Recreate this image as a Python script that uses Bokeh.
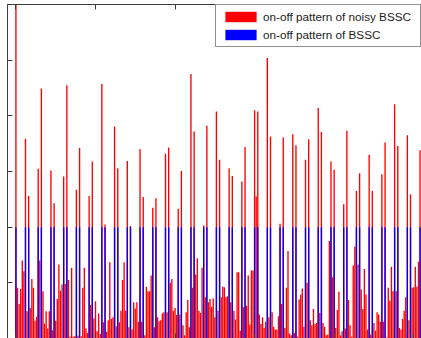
from bokeh.plotting import figure
from bokeh.models import ColumnDataSource, Range1d, LinearAxis, FixedTicker, Legend, LegendItem
from bokeh.embed import file_html
from bokeh.resources import INLINE

# on-off pattern of the noisy BSSC
noisy = [
    6.20, 0.91, 0.62, 0.89, 1.40, 1.21, 3.59, 0.49, 2.56, 0.55, 1.07, 0.91, 0.32, 0.39, 3.05, 1.40,
    4.49, 0.85, 0.27, 0.49, 0.18, 0.49, 3.02, 0.15, 2.43, 0.32, 0.71, 1.33, 0.86, 0.97, 2.91, 0.98,
    4.55, 1.05, 0.03, 1.27, 0.03, 0.04, 2.67, 0.05, 3.42, 0.04, 0.91, 1.27, 0.18, 0.10, 2.56, 0.60,
    3.18, 0.36, 0.67, 0.13, 0.45, 0.08, 4.57, 0.29, 2.05, 0.12, 0.33, 1.37, 0.35, 0.38, 3.81, 0.22,
    3.06, 0.29, 0.50, 1.05, 1.37, 0.50, 3.19, 0.20, 2.02, 0.16, 0.65, 0.54, 0.65, 0.30, 3.40, 0.30,
    2.54, 0.06, 0.93, 0.85, 0.85, 1.13, 2.35, 0.20, 2.52, 0.38, 0.31, 0.33, 0.45, 0.47, 3.32, 0.47,
    3.43, 1.00, 1.07, 0.50, 0.55, 0.42, 2.33, 0.43, 3.01, 0.24, 0.06, 0.47, 0.69, 0.20, 4.75, 0.91,
    3.72, 1.15, 1.44, 0.50, 0.46, 1.27, 2.03, 0.74, 3.82, 0.65, 0.71, 0.57, 0.72, 0.38, 4.08, 0.50,
    3.21, 0.74, 0.93, 0.92, 0.74, 0.76, 3.06, 0.65, 2.92, 0.50, 0.34, 1.19, 1.19, 0.14, 2.82, 0.56,
    3.44, 0.59, 1.13, 0.25, 1.22, 1.22, 4.10, 2.55, 4.08, 0.43, 0.26, 0.38, 0.19, 0.30, 5.04, 0.38,
    3.63, 0.47, 0.21, 0.16, 0.16, 0.40, 2.06, 0.62, 3.61, 0.19, 0.91, 1.57, 0.09, 0.06, 3.67, 0.10,
    3.47, 0.03, 0.70, 0.79, 0.90, 0.21, 3.21, 1.00, 3.58, 0.33, 0.24, 0.53, 0.26, 0.28, 4.14, 0.46,
    3.71, 0.28, 0.21, 0.06, 0.07, 1.75, 3.18, 1.10, 3.03, 0.19, 0.51, 0.84, 0.06, 0.13, 2.41, 0.18,
    3.73, 0.69, 0.24, 0.03, 1.31, 1.65, 2.65, 1.33, 2.97, 0.88, 0.53, 1.25, 0.79, 0.16, 3.30, 0.07,
    2.65, 0.28, 0.14, 0.47, 0.43, 0.30, 2.95, 0.30, 3.52, 0.02, 0.91, 0.68, 1.29, 0.85, 4.21, 0.85,
    3.46, 0.19, 0.16, 0.35, 0.50, 0.74, 3.65, 0.33, 2.59, 0.91, 0.92, 1.29, 0.93, 1.38, 3.38, 0.50,
]

# on-off pattern of the clean BSSC
clean = [
    2, 0, 0, 0, 0, 0, 2, 0, 2, 0, 0, 0, 0, 0, 2, 0,
    2, 0, 0, 0, 0, 0, 2, 0, 2, 0, 0, 0, 0, 0, 2, 0,
    2, 0, 0, 0, 0, 0, 2, 0, 2, 0, 0, 0, 0, 0, 2, 0,
    2, 0, 0, 0, 0, 0, 2, 0, 2, 0, 0, 0, 0, 0, 2, 0,
    2, 0, 0, 0, 0, 0, 2, 0, 2, 0, 0, 0, 0, 0, 2, 0,
    2, 0, 0, 0, 0, 0, 2, 0, 2, 0, 0, 0, 0, 0, 2, 0,
    2, 0, 0, 0, 0, 0, 2, 0, 2, 0, 0, 0, 0, 0, 2, 0,
    2, 0, 0, 0, 0, 0, 2, 0, 2, 0, 0, 0, 0, 0, 2, 0,
    2, 0, 0, 0, 0, 0, 2, 0, 2, 0, 0, 0, 0, 0, 2, 0,
    2, 0, 0, 0, 0, 0, 2, 0, 2, 0, 0, 0, 0, 0, 2, 0,
    2, 0, 0, 0, 0, 0, 2, 0, 2, 0, 0, 0, 0, 0, 2, 0,
    2, 0, 0, 0, 0, 0, 2, 0, 2, 0, 0, 0, 0, 0, 2, 0,
    2, 0, 0, 0, 0, 0, 2, 0, 2, 0, 0, 0, 0, 0, 2, 0,
    2, 0, 0, 0, 0, 0, 2, 0, 2, 0, 0, 0, 0, 0, 2, 0,
    2, 0, 0, 0, 0, 0, 2, 0, 2, 0, 0, 0, 0, 0, 2, 0,
    2, 0, 0, 0, 0, 0, 2, 0, 2, 0, 0, 0, 0, 0, 2, 0,
]

sample = list(range(len(noisy)))
x_ticks = [0, 50, 100, 150, 200, 250]
y_ticks = [0, 1, 2, 3, 4, 5, 6]
legend_labels = ["on-off pattern of noisy BSSC", "on-off pattern of BSSC"]

src = ColumnDataSource(dict(x=sample, noisy=noisy, clean=clean))

p = figure(width=421, height=338, output_backend="svg", toolbar_location=None,
           x_range=Range1d(-5.3, 254.9), y_range=Range1d(0, 6),
           x_axis_location=None, y_axis_location=None,
           min_border_left=7, min_border_right=0, min_border_top=4, min_border_bottom=0)
p.outline_line_color = None
p.grid.visible = False
p.background_fill_color = "white"
p.border_fill_color = "white"

AX = "#3c3c3c"


def make_axis(ticks):
    # tick marks point inward; the reference shows no tick labels (cropped away)
    return LinearAxis(ticker=FixedTicker(ticks=ticks), major_tick_in=5, major_tick_out=0,
                      minor_tick_line_color=None, major_label_text_font_size="1px",
                      major_label_text_color=None, major_label_standoff=0,
                      axis_line_color=AX, axis_line_width=1, major_tick_line_color=AX)


p.add_layout(make_axis(y_ticks), "left")
p.add_layout(make_axis(x_ticks), "above")
p.add_layout(make_axis(x_ticks), "below")

r_red = p.vbar(x="x", top="noisy", width=0.85, source=src,
               fill_color="#ff0000", line_color=None)
r_blue = p.vbar(x="x", top="clean", width=0.85, source=src,
                fill_color="#0000ff", line_color=None)

legend = Legend(items=[LegendItem(label=legend_labels[0], renderers=[r_red]),
                       LegendItem(label=legend_labels[1], renderers=[r_blue])],
                location="top_right", margin=0, padding=5, spacing=5,
                glyph_width=39, glyph_height=13, label_standoff=3, label_height=13,
                label_width=152,
                label_text_font="Liberation Sans", label_text_font_size="11.7px",
                label_text_color="#222222", border_line_color="#222222",
                border_line_width=1, background_fill_color="white", background_fill_alpha=1)
p.add_layout(legend)

open("out.html", "w").write(file_html(p, INLINE))
